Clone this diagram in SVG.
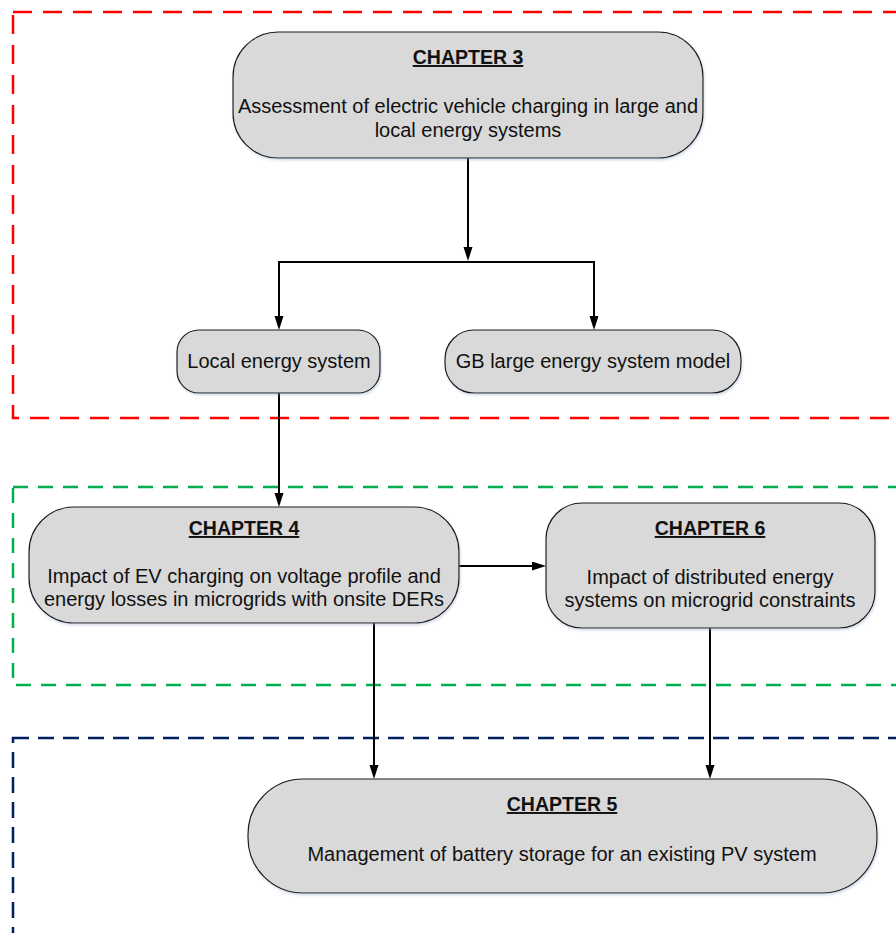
<svg xmlns="http://www.w3.org/2000/svg" width="896" height="933" viewBox="0 0 896 933">
  <defs>
    <marker id="arrow" markerUnits="userSpaceOnUse" markerWidth="14" markerHeight="10" refX="8" refY="4.5" orient="auto">
      <path d="M0,0 L14,4.5 L0,9 z" fill="#000"/>
    </marker>
    <filter id="soft" x="-5%" y="-5%" width="110%" height="120%">
      <feDropShadow dx="1" dy="2" stdDeviation="1" flood-color="#8fa3c8" flood-opacity="0.35"/>
    </filter>
    <style>
      .region { fill: none; stroke-width: 2.5; }
      .node rect { fill: #d9d9d9; stroke: #1a1a1a; stroke-width: 1.2; filter: url(#soft); }
      .node text { font-family: "Liberation Sans", Arial, Helvetica, sans-serif; font-size: 20px; fill: #111; text-anchor: middle; }
      .node text.title { font-size: 19.5px; font-weight: bold; text-decoration: underline; }
      .conn { fill: none; stroke: #000; stroke-width: 2; }
    </style>
  </defs>

  <rect width="896" height="933" fill="#fff"/>

  <!-- dashed grouping frames -->
  <g id="regions">
    <rect class="region" x="13" y="12" width="910" height="406" stroke="#ff0000" stroke-dasharray="19 11"/>
    <rect class="region" x="13" y="487" width="910" height="198" stroke="#00b050" stroke-dasharray="15 10"/>
    <rect class="region" x="13" y="738" width="910" height="230" stroke="#002060" stroke-dasharray="16 9"/>
  </g>

  <!-- connectors -->
  <g id="connectors">
    <line class="conn" x1="468" y1="158" x2="468" y2="255" marker-end="url(#arrow)"/>
    <line class="conn" x1="278" y1="262" x2="595" y2="262"/>
    <line class="conn" x1="279" y1="262" x2="279" y2="324" marker-end="url(#arrow)"/>
    <line class="conn" x1="594" y1="262" x2="594" y2="324" marker-end="url(#arrow)"/>
    <line class="conn" x1="279" y1="393" x2="279" y2="501" marker-end="url(#arrow)"/>
    <line class="conn" x1="459" y1="566" x2="540" y2="566" marker-end="url(#arrow)"/>
    <line class="conn" x1="374" y1="623" x2="374" y2="773" marker-end="url(#arrow)"/>
    <line class="conn" x1="710" y1="628" x2="710" y2="773" marker-end="url(#arrow)"/>
  </g>

  <!-- nodes -->
  <g id="chapter3" class="node">
    <rect x="233" y="32" width="470" height="126" rx="45" ry="45"/>
    <text class="title" x="468" y="64">CHAPTER 3</text>
    <text x="468" y="113">Assessment of electric vehicle charging in large and</text>
    <text x="468" y="137">local energy systems</text>
  </g>

  <g id="local-energy-system" class="node">
    <rect x="177" y="330" width="203" height="63" rx="22" ry="22"/>
    <text x="279" y="368">Local energy system</text>
  </g>

  <g id="gb-model" class="node">
    <rect x="445" y="330" width="296" height="63" rx="29" ry="29"/>
    <text x="593" y="368">GB large energy system model</text>
  </g>

  <g id="chapter4" class="node">
    <rect x="29" y="507" width="430" height="116" rx="45" ry="45"/>
    <text class="title" x="244" y="535">CHAPTER 4</text>
    <text x="244" y="583">Impact of EV charging on voltage profile and</text>
    <text x="244" y="606">energy losses in microgrids with onsite DERs</text>
  </g>

  <g id="chapter6" class="node">
    <rect x="546" y="503" width="329" height="125" rx="36" ry="36"/>
    <text class="title" x="710" y="535">CHAPTER 6</text>
    <text x="710" y="584">Impact of distributed energy</text>
    <text x="710" y="607">systems on microgrid constraints</text>
  </g>

  <g id="chapter5" class="node">
    <rect x="248" y="779" width="629" height="114" rx="55" ry="55"/>
    <text class="title" x="562" y="811">CHAPTER 5</text>
    <text x="562" y="861">Management of battery storage for an existing PV system</text>
  </g>
</svg>
